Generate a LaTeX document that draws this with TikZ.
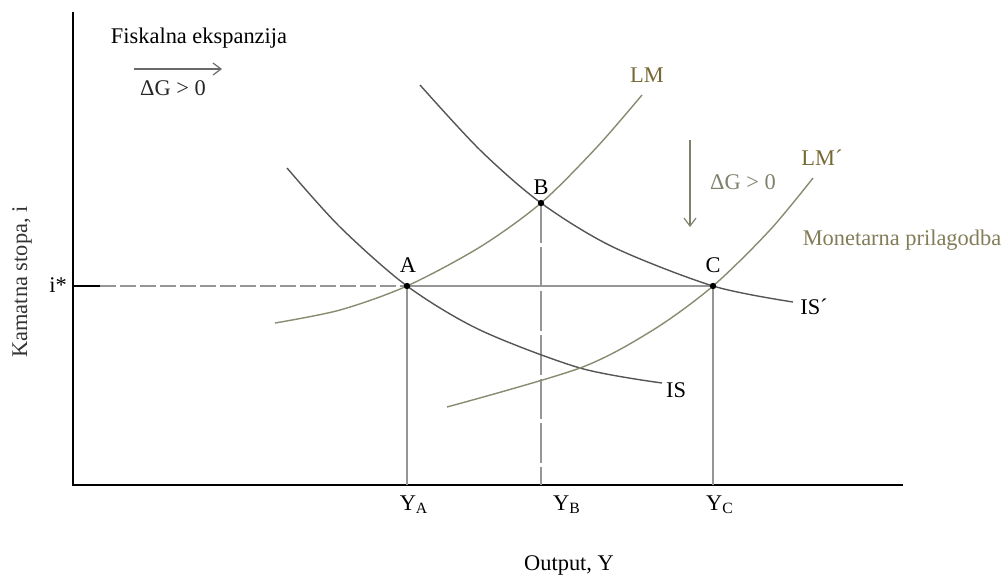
\documentclass[tikz,border=0pt]{standalone}
\usepackage{fontspec}
\setmainfont{Liberation Serif}
\usetikzlibrary{arrows.meta,positioning}
\definecolor{iscol}{RGB}{85,85,85}
\definecolor{lmcol}{RGB}{138,138,112}
\definecolor{lmtext}{RGB}{118,104,52}
\definecolor{guide}{RGB}{150,150,150}
\definecolor{shiftcol}{RGB}{128,128,108}
\tikzset{
  axis/.style={line width=0.8pt, black},
  iscurve/.style={line width=0.7pt, iscol},
  lmcurve/.style={line width=0.7pt, lmcol},
  guideline/.style={line width=0.6pt, guide},
  dashguide/.style={guideline, dash pattern=on 8pt off 2pt},
  eqdot/.style={circle, fill=black, inner sep=0pt, minimum size=3.2pt},
  ptlabel/.style={inner sep=1pt},
  lmlabel/.style={ptlabel, text=lmtext},
  shiftarrow/.style={line width=0.6pt, shiftcol, -{Straight Barb[length=4pt,width=6pt]}},
}

\begin{document}
\begin{tikzpicture}[x=0.5pt, y=-0.5pt, font=\fontsize{11.2}{13}\selectfont]
  \useasboundingbox (0,0) rectangle (1007,575);
  % ====== Osi ======
  \coordinate (O) at (73,485);
  \coordinate (ytop) at (73,12);
  \coordinate (xend) at (903,485);
  \draw[axis] (ytop) -- (O) -- (xend);
  \node[ptlabel, rotate=90, text=black!80] (ylab) at (22,282) {Kamatna stopa, i};
  \node[ptlabel] (xlab) at (569,565) {Output, Y};
  % ====== Ravnoteze ======
  \coordinate (A) at (407,286);
  \coordinate (B) at (541,203);
  \coordinate (C) at (713,286);
  \coordinate (iax) at (73,286);
  \coordinate (itick) at (100,286);
  % ====== Pomocne linije ======
  \draw[axis, line width=0.6pt] (iax) -- (itick);
  \draw[dashguide] (itick) -- (A);
  \draw[guideline] (A) -- (C);
  \draw[guideline] (A) -- (A |- O);
  \draw[dashguide, dash pattern=on 20pt off 2pt] (B) -- (B |- O);
  \draw[guideline] (C) -- (C |- O);
  % ====== Krivulje IS, IS', LM, LM' ======
  \draw[iscurve] plot[smooth] coordinates {(287,168) (340,227) (A) (480,330) (580,368) (662,383)};
  \draw[iscurve] plot[smooth] coordinates {(420,85) (480,150) (B) (613,247) (C) (793,302)};
  \draw[lmcurve] plot[smooth] coordinates {(275,323) (340,310) (A) (480,247) (B) (597,147) (642,95)};
  \draw[lmcurve] plot[smooth] coordinates {(447,407) (580,368) (653,330) (C) (770,230) (813,178)};
  \node[ptlabel] (islab) at (676,390) {IS};
  \node[ptlabel] (is2lab) at (814,307) {IS´};
  \node[lmlabel] (lmlab) at (647,75) {LM};
  \node[lmlabel] (lm2lab) at (822,158) {LM´};
  % ====== Tocke ======
  \node[eqdot] (dA) at (A) {}; \node[ptlabel] (lA) at (408,265) {A};
  \node[eqdot] (dB) at (B) {}; \node[ptlabel] (lB) at (541,187) {B};
  \node[eqdot] (dC) at (C) {}; \node[ptlabel] (lC) at (713,265) {C};
  \node[ptlabel] (istar) at (58,285) {i*};
  \node[ptlabel] (yA) at (414,505) {Y\textsubscript{A}};
  \node[ptlabel] (yB) at (567,505) {Y\textsubscript{B}};
  \node[ptlabel] (yC) at (720,505) {Y\textsubscript{C}};
  % ====== Fiskalna ekspanzija ======
  \node[ptlabel] (fisk) at (199,38) {Fiskalna ekspanzija};
  \coordinate (fa) at (134,69);
  \coordinate (fb) at (222,69);
  \draw[shiftarrow, guide!70!black] (fa) -- (fb);
  \node[ptlabel, text=black!85] (dg1) at (173,88) {ΔG > 0};
  % ====== Monetarna prilagodba ======
  \coordinate (ma) at (690,140);
  \coordinate (mb) at (690,227);
  \draw[shiftarrow] (ma) -- (mb);
  \node[ptlabel, text=shiftcol] (dg2) at (743,182) {ΔG > 0};
  \node[lmlabel, text=lmcol!60!lmtext] (mon) at (902,240) {Monetarna prilagodba};
\end{tikzpicture}
\end{document}
